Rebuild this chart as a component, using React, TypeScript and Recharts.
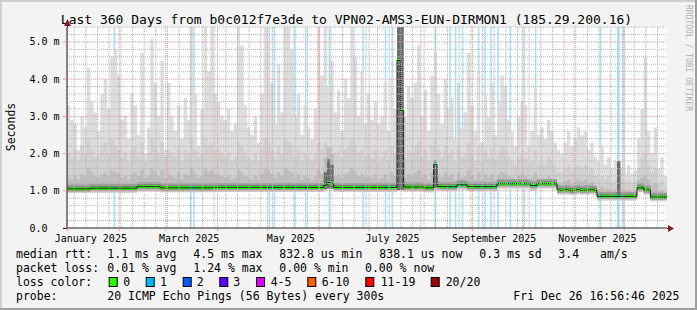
import React from 'react';
import {
  ComposedChart,
  Area,
  Line,
  XAxis,
  YAxis,
  CartesianGrid,
  ReferenceLine,
  ReferenceArea,
} from 'recharts';

// one row every 2 days, day 0 = start of the 360 day window
const STEP_DAYS = 2;

const maxRtt = [
  3.3, 2.9, 2.8, 2.1, 3.0, 2.7, 4.3, 3.4, 3.1, 2.6,
  3.6, 4.0, 3.2, 4.6, 4.8, 4.1, 2.9, 3.0, 2.4, 3.6,
  3.3, 2.5, 4.7, 2.0, 2.7, 5.1, 3.9, 3.0, 4.5, 2.1,
  3.9, 3.0, 2.6, 3.3, 2.4, 3.5, 2.9, 5.4, 3.6, 2.2,
  3.2, 5.4, 4.2, 5.4, 3.6, 3.4, 3.0, 2.9, 3.2, 2.6,
  2.8, 5.4, 4.9, 3.3, 2.7, 2.5, 3.0, 2.3, 3.6, 5.4,
  5.0, 3.9, 2.8, 4.4, 3.1, 5.4, 5.4, 4.8, 3.0, 3.6,
  2.5, 3.3, 2.7, 2.4, 3.2, 5.4, 4.1, 5.4, 3.8, 4.5,
  3.1, 3.7, 2.6, 4.0, 3.5, 5.4, 4.6, 3.0, 4.2, 2.8,
  3.6, 2.9, 3.4, 2.8, 3.0, 3.9, 2.6, 4.0, 3.2, 5.4,
  5.4, 3.0, 3.8, 3.5, 3.9, 4.9, 3.0, 3.7, 2.6, 4.1,
  4.7, 3.6, 2.8, 4.0, 3.2, 3.5, 2.4, 3.9, 2.7, 3.1,
  4.7, 3.3, 2.6, 4.2, 2.3, 3.6, 3.0, 3.9, 2.5, 3.4,
  4.1, 3.8, 2.9, 2.6, 2.2, 3.0, 3.4, 3.3, 2.2, 2.6,
  3.8, 2.5, 2.7, 2.4, 2.9, 2.6, 2.3, 2.1, 2.0, 2.3,
  2.6, 2.2, 2.4, 2.7, 2.5, 2.6, 2.1, 2.3, 1.9, 1.8,
  2.2, 1.7, 1.9, 1.6, 1.8, 1.85, 1.6, 1.5, 1.7, 1.45,
  1.55, 2.4, 3.2, 4.6, 2.6, 2.0, 2.7, 1.6, 1.9, 1.4,
];

const upperRtt = [
  2.0, 1.9, 2.1, 1.8, 2.2, 2.0, 2.4, 2.1, 1.9, 2.0,
  2.2, 2.3, 2.0, 2.4, 2.2, 2.1, 1.9, 2.0, 1.8, 2.1,
  2.2, 1.9, 2.3, 1.8, 2.0, 2.4, 2.2, 2.0, 2.3, 1.9,
  2.1, 2.0, 1.9, 2.2, 1.8, 2.1, 2.0, 2.4, 2.1, 1.9,
  2.0, 2.4, 2.2, 2.3, 2.1, 2.1, 2.0, 1.9, 2.0, 1.8,
  1.9, 2.3, 2.2, 2.0, 1.9, 1.8, 2.0, 1.8, 2.1, 2.4,
  2.3, 2.1, 1.9, 2.2, 2.0, 2.4, 2.3, 2.2, 1.9, 2.1,
  1.8, 2.0, 1.9, 1.8, 2.0, 2.3, 2.1, 2.3, 2.2, 2.2,
  2.0, 2.1, 1.9, 2.1, 2.2, 2.4, 2.2, 2.0, 2.1, 1.9,
  2.0, 1.9, 2.1, 1.8, 1.9, 2.1, 1.8, 2.2, 2.0, 5.4,
  5.4, 1.9, 2.1, 2.0, 2.2, 2.3, 1.9, 2.1, 1.8, 2.2,
  2.4, 2.1, 1.9, 2.2, 2.0, 2.1, 1.8, 2.2, 1.9, 2.0,
  2.3, 2.0, 1.8, 2.2, 1.8, 2.1, 1.9, 2.1, 1.8, 2.0,
  2.2, 2.1, 1.9, 1.8, 1.7, 1.9, 2.0, 1.9, 1.7, 1.8,
  2.1, 1.7, 1.8, 1.7, 1.9, 1.8, 1.7, 1.5, 1.5, 1.6,
  1.7, 1.5, 1.6, 1.7, 1.6, 1.7, 1.5, 1.6, 1.4, 1.3,
  1.4, 1.3, 1.4, 1.2, 1.3, 1.5, 1.3, 1.2, 1.3, 1.2,
  1.25, 1.6, 1.9, 2.0, 1.7, 1.5, 1.6, 1.2, 1.3, 1.15,
];

const midRtt = [
  1.35, 1.3, 1.4, 1.3, 1.45, 1.35, 1.6, 1.5, 1.4, 1.35,
  1.45, 1.5, 1.4, 1.55, 1.5, 1.45, 1.35, 1.4, 1.3, 1.45,
  1.5, 1.4, 1.55, 1.35, 1.4, 1.6, 1.5, 1.4, 1.55, 1.35,
  1.45, 1.4, 1.35, 1.5, 1.3, 1.45, 1.4, 1.6, 1.45, 1.35,
  1.4, 1.6, 1.5, 1.55, 1.45, 1.45, 1.4, 1.35, 1.4, 1.3,
  1.35, 1.55, 1.5, 1.4, 1.35, 1.3, 1.4, 1.3, 1.45, 1.6,
  1.55, 1.45, 1.35, 1.5, 1.4, 1.6, 1.55, 1.5, 1.35, 1.45,
  1.3, 1.4, 1.35, 1.3, 1.4, 1.55, 1.45, 1.9, 2.15, 2.0,
  1.4, 1.45, 1.35, 1.45, 1.5, 1.6, 1.5, 1.4, 1.45, 1.35,
  1.4, 1.35, 1.45, 1.3, 1.35, 1.45, 1.3, 1.5, 1.4, 5.4,
  5.4, 1.35, 1.45, 1.4, 1.5, 1.55, 1.35, 1.45, 1.3, 1.5,
  1.75, 1.45, 1.35, 1.5, 1.4, 1.45, 1.3, 1.5, 1.35, 1.4,
  1.55, 1.4, 1.3, 1.5, 1.3, 1.45, 1.35, 1.45, 1.3, 1.45,
  1.5, 1.45, 1.4, 1.35, 1.3, 1.4, 1.45, 1.4, 1.3, 1.35,
  1.5, 1.3, 1.35, 1.3, 1.4, 1.35, 1.3, 1.2, 1.2, 1.25,
  1.3, 1.2, 1.25, 1.3, 1.25, 1.3, 1.2, 1.25, 1.15, 1.05,
  1.1, 1.0, 1.05, 0.98, 1.02, 1.8, 1.0, 0.98, 1.02, 0.97,
  1.0, 1.3, 1.35, 1.4, 1.3, 1.15, 1.2, 0.98, 1.0, 0.95,
];

const medianRtt = [
  1.05, 1.05, 1.05, 1.05, 1.05, 1.05, 1.05, 1.07, 1.07, 1.07,
  1.07, 1.07, 1.07, 1.07, 1.07, 1.07, 1.07, 1.07, 1.07, 1.07,
  1.07, 1.11, 1.11, 1.11, 1.11, 1.11, 1.11, 1.11, 1.08, 1.08,
  1.08, 1.08, 1.08, 1.08, 1.08, 1.08, 1.08, 1.08, 1.08, 1.08,
  1.08, 1.08, 1.08, 1.08, 1.09, 1.09, 1.09, 1.09, 1.09, 1.09,
  1.09, 1.09, 1.09, 1.09, 1.09, 1.09, 1.09, 1.09, 1.09, 1.09,
  1.09, 1.09, 1.09, 1.09, 1.09, 1.09, 1.09, 1.09, 1.09, 1.09,
  1.09, 1.09, 1.09, 1.09, 1.09, 1.09, 1.09, 1.15, 1.22, 1.20,
  1.09, 1.09, 1.09, 1.09, 1.09, 1.09, 1.09, 1.09, 1.09, 1.09,
  1.09, 1.09, 1.09, 1.09, 1.09, 1.09, 1.09, 1.09, 1.09, 4.5,
  3.15, 1.10, 1.10, 1.10, 1.10, 1.10, 1.10, 1.08, 1.08, 1.08,
  1.7, 1.12, 1.11, 1.11, 1.11, 1.11, 1.11, 1.16, 1.16, 1.16,
  1.11, 1.11, 1.11, 1.11, 1.11, 1.11, 1.11, 1.11, 1.11, 1.19,
  1.19, 1.19, 1.19, 1.19, 1.19, 1.19, 1.19, 1.19, 1.19, 1.14,
  1.14, 1.19, 1.19, 1.19, 1.19, 1.19, 1.19, 1.02, 1.01, 1.03,
  1.02, 1.00, 1.02, 1.03, 1.01, 1.02, 1.02, 1.03, 1.01, 0.85,
  0.85, 0.85, 0.85, 0.85, 0.85, 0.85, 0.85, 0.85, 0.85, 0.85,
  0.85, 1.08, 1.08, 1.02, 1.02, 0.83, 0.83, 0.83, 0.83, 0.83,
];

const lowRtt = [
  0.94, 0.94, 0.94, 0.94, 0.94, 0.94, 0.94, 0.95, 0.95, 0.95,
  0.95, 0.95, 0.95, 0.95, 0.95, 0.95, 0.95, 0.95, 0.95, 0.95,
  0.95, 0.98, 0.98, 0.98, 0.98, 0.98, 0.98, 0.98, 0.96, 0.96,
  0.96, 0.96, 0.96, 0.96, 0.96, 0.96, 0.96, 0.96, 0.96, 0.96,
  0.96, 0.96, 0.96, 0.96, 0.97, 0.97, 0.97, 0.97, 0.97, 0.97,
  0.97, 0.97, 0.97, 0.97, 0.97, 0.97, 0.97, 0.97, 0.97, 0.97,
  0.97, 0.97, 0.97, 0.97, 0.97, 0.97, 0.97, 0.97, 0.97, 0.97,
  0.97, 0.97, 0.97, 0.97, 0.97, 0.97, 0.97, 1.00, 1.05, 1.04,
  0.97, 0.97, 0.97, 0.97, 0.97, 0.97, 0.97, 0.97, 0.97, 0.97,
  0.97, 0.97, 0.97, 0.97, 0.97, 0.97, 0.97, 0.97, 0.97, 1.00,
  1.00, 0.98, 0.98, 0.98, 0.98, 0.98, 0.98, 0.96, 0.96, 0.96,
  1.00, 1.00, 0.99, 0.99, 0.99, 0.99, 0.99, 1.03, 1.03, 1.03,
  0.99, 0.99, 0.99, 0.99, 0.99, 0.99, 0.99, 0.99, 0.99, 1.06,
  1.06, 1.06, 1.06, 1.06, 1.06, 1.06, 1.06, 1.06, 1.06, 1.01,
  1.01, 1.06, 1.06, 1.06, 1.06, 1.06, 1.06, 0.90, 0.90, 0.91,
  0.90, 0.89, 0.90, 0.91, 0.90, 0.90, 0.90, 0.91, 0.90, 0.74,
  0.74, 0.74, 0.74, 0.74, 0.74, 0.74, 0.74, 0.74, 0.74, 0.74,
  0.74, 0.96, 0.96, 0.90, 0.90, 0.72, 0.72, 0.72, 0.72, 0.72,
];

// rows where the whole ping distribution was dark (tight, high) smoke
const coreDays = [154, 156, 158, 198, 200, 220, 330];
const coreLow = [1.05, 1.06, 1.06, 1.02, 1.02, 1.08, 0.8];
const coreHigh = [1.5, 1.85, 1.7, 5.4, 5.4, 1.72, 1.8];

// packet loss (1/20) events, day position and width in days
const lossDays = [
  28.4, 74.2, 76.2, 121.4, 124.4, 136.4, 143.2, 157.4, 177.6, 191.1,
  195.2, 220.9, 229.8, 233.2, 237.3, 247.0, 250.8, 254.4, 258.6, 266.0,
  274.3, 281.2, 320.2, 330.8, 334.2,
];
const lossWidths = [
  0.9, 0.9, 0.9, 0.9, 0.9, 0.9, 0.9, 0.9, 0.9, 0.9,
  0.9, 0.9, 0.9, 0.9, 0.9, 0.9, 0.9, 0.9, 0.9, 0.9,
  0.9, 0.9, 0.9, 1.6, 0.9,
];

const monthStartDays = [0.29, 31.29, 59.29, 90.29, 120.29, 151.29, 181.29, 212.29, 243.29, 273.29, 304.29, 334.29];
const monthLabelDays = [14.29, 73.29, 134.29, 195.29, 256.29, 318.29];
const monthLabels = ['January 2025', 'March 2025', 'May 2025', 'July 2025', 'September 2025', 'November 2025'];
const yTicks = [0, 1, 2, 3, 4, 5];
const yTickLabels = ['0.0', '1.0 m', '2.0 m', '3.0 m', '4.0 m', '5.0 m'];

const Y_MAX = 5.4;
const X_MAX = 360;

const weekDays: number[] = [];
for (let d = 4.29; d < X_MAX; d += 7) weekDays.push(d);
const minorY: number[] = [];
for (let k = 1; k <= 27; k++) if (k % 5 !== 0) minorY.push(k * 0.2);

type Row = {
  day: number;
  max: number;
  upper: number;
  mid: number;
  median: number;
  low: number;
  core: [number, number] | null;
};

const table: Row[] = medianRtt.map((m, i) => {
  const day = i * STEP_DAYS;
  const ci = coreDays.indexOf(day);
  return {
    day,
    max: maxRtt[i],
    upper: upperRtt[i],
    mid: midRtt[i],
    median: m,
    low: lowRtt[i],
    core: ci >= 0 ? [coreLow[ci], coreHigh[ci]] : null,
  };
});
// closing row so the last step reaches the right edge
table.push({ ...table[table.length - 1], day: X_MAX });

const FONT = "'DejaVu Sans Mono', monospace";
const GRID = '#b4b4b4';
const MGRID = '#eb9696';
const AXIS = '#202020';
const ARROW = '#7f1f1f';

const XTick = (props: any) => {
  const { x, y, payload } = props;
  const idx = monthLabelDays.indexOf(payload.value);
  if (idx >= 0) {
    return (
      <text x={x} y={y + 13.5} textAnchor="middle" fontSize={10} fontFamily={FONT} fill="#000">
        {monthLabels[idx]}
      </text>
    );
  }
  return <line x1={x} x2={x} y1={y} y2={y + 3} stroke={MGRID} />;
};

const YTick = (props: any) => {
  const { x, y, payload } = props;
  const idx = yTicks.indexOf(payload.value);
  return (
    <g>
      <line x1={x - 4} x2={x} y1={y} y2={y} stroke={MGRID} />
      <text x={x - 37.5} y={y + 3.6} textAnchor="start" fontSize={10} fontFamily={FONT} fill="#000">
        {yTickLabels[idx]}
      </text>
    </g>
  );
};

const legendRows = [
  { y: 258, items: [
    [16, 'median rtt:'], [107.3, '1.1 ms avg'], [193.3, '4.5 ms max'], [279.3, '832.8 us min'],
    [379.3, '838.1 us now'], [479.3, '0.3 ms sd'], [558.3, '3.4'], [600, 'am/s'],
  ] },
  { y: 272, items: [
    [16, 'packet loss:'], [107.3, '0.01 % avg'], [193.3, '1.24 % max'], [279.3, '0.00 % min'], [365, '0.00 % now'],
  ] },
  { y: 286, items: [[16, 'loss color:']] },
  { y: 300, items: [
    [16, 'probe:'], [107.3, '20 ICMP Echo Pings (56 Bytes) every 300s'], [513.3, 'Fri Dec 26 16:56:46 2025'],
  ] },
];

const lossLabels = ['0', '1', '2', '3', '4-5', '6-10', '11-19', '20/20'];
const lossColors = ['#26ff00', '#00b8ff', '#0059ff', '#5e00ff', '#dd00ff', '#ff5e00', '#ff0000', '#a10000'];
const swatchX = [108.7, 145.7, 182.7, 219.3, 256, 307.3, 365.3, 430.7];
const swatchLabelX = [123.3, 160, 196.7, 233.3, 270.7, 321.7, 380.7, 445.7];

export default function App() {
  return (
    <div style={{ position: 'relative', width: 697, height: 310, background: '#f3f3f3', overflow: 'hidden' }}>
      <style>{'body{margin:0}'}</style>
      <div style={{ position: 'absolute', left: 0, top: 0 }}>
        <ComposedChart
          width={697}
          height={310}
          data={table}
          margin={{ top: 27, right: 30, bottom: 52, left: 0 }}
        >
          <CartesianGrid horizontal={false} vertical={false} fill="#ffffff" />
          <XAxis
            dataKey="day"
            type="number"
            domain={[0, X_MAX]}
            allowDataOverflow
            ticks={[...monthStartDays, ...monthLabelDays]}
            interval={0}
            tick={<XTick />}
            tickLine={false}
            tickSize={0}
            tickMargin={0}
            height={30}
            axisLine={{ stroke: AXIS }}
          />
          <YAxis
            type="number"
            domain={[0, Y_MAX]}
            allowDataOverflow
            ticks={yTicks}
            interval={0}
            tick={<YTick />}
            tickLine={false}
            tickSize={0}
            tickMargin={0}
            width={67}
            axisLine={{ stroke: AXIS }}
          />
          {lossDays.map((d, i) => (
            <ReferenceArea
              key={'loss' + i}
              x1={d - lossWidths[i] / 2}
              x2={d + lossWidths[i] / 2}
              y1={0}
              y2={Y_MAX}
              fill="#a2e2fb"
              fillOpacity={1}
              stroke="none"
            />
          ))}
          <Area dataKey={(r: Row) => [r.low, r.max]} type="stepAfter" fill="#dddddd" fillOpacity={1} stroke="none" dot={false} activeDot={false} isAnimationActive={false} />
          <Area dataKey={(r: Row) => [r.low, r.upper]} type="stepAfter" fill="#d0d0d0" fillOpacity={1} stroke="none" dot={false} activeDot={false} isAnimationActive={false} />
          <Area dataKey={(r: Row) => [r.low + 0.03, r.mid]} type="stepAfter" fill="#bdbdbd" fillOpacity={1} stroke="none" dot={false} activeDot={false} isAnimationActive={false} />
          <Area dataKey={(r: Row) => [r.median - 0.07, r.median + 0.12]} type="stepAfter" fill="#9c9c9c" fillOpacity={1} stroke="none" dot={false} activeDot={false} isAnimationActive={false} />
          <Area dataKey={(r: Row) => (r.core ? r.core : [r.median - 0.04, r.median + 0.06])} type="stepAfter" fill="#6c6c6c" fillOpacity={1} stroke="none" dot={false} activeDot={false} isAnimationActive={false} />
          <Line dataKey="median" type="stepAfter" stroke="#1a1a1a" strokeWidth={1} dot={false} activeDot={false} isAnimationActive={false} />
          <Area dataKey={(r: Row) => [r.median - 0.04, r.median + 0.04]} type="stepAfter" fill="#26ff00" fillOpacity={1} stroke="none" dot={false} activeDot={false} isAnimationActive={false} />
          {lossDays.map((d, i) => {
            const m = medianRtt[Math.min(medianRtt.length - 1, Math.floor(d / STEP_DAYS))];
            return (
              <ReferenceArea
                key={'lm' + i}
                x1={d - lossWidths[i] / 2}
                x2={d + lossWidths[i] / 2}
                y1={m - 0.04}
                y2={m + 0.04}
                fill="#00b8ff"
                fillOpacity={1}
                stroke="none"
              />
            );
          })}
          {minorY.map((v) => (
            <ReferenceLine key={'my' + v} y={v} stroke={GRID} strokeDasharray="1 1" />
          ))}
          {weekDays.map((v) => (
            <ReferenceLine key={'wx' + v} x={v} stroke={GRID} strokeDasharray="1 1" />
          ))}
          {monthStartDays.map((v) => (
            <ReferenceLine key={'mx' + v} x={v} stroke={MGRID} strokeDasharray="1 1" />
          ))}
          {yTicks.filter((v) => v > 0).map((v) => (
            <ReferenceLine key={'My' + v} y={v} stroke={MGRID} strokeDasharray="1 1" />
          ))}
        </ComposedChart>
      </div>
      <svg width={697} height={310} style={{ position: 'absolute', left: 0, top: 0, pointerEvents: 'none' }}>
        <rect x={0} y={0} width={697} height={2} fill="#cfcfcf" />
        <rect x={0} y={0} width={2} height={310} fill="#cfcfcf" />
        <rect x={0} y={308} width={697} height={2} fill="#9e9e9e" />
        <rect x={695} y={0} width={2} height={310} fill="#9e9e9e" />
        <text x={346.5} y={24} textAnchor="middle" fontSize={13} fontFamily={FONT} fill="#000">
          Last 360 Days from b0c012f7e3de to VPN02-AMS3-EUN-DIRMON1 (185.29.200.16)
        </text>
        <text
          x={15}
          y={127}
          textAnchor="middle"
          fontSize={11.5}
          fontFamily={FONT}
          fill="#000"
          transform="rotate(-90 15 127)"
        >
          Seconds
        </text>
        <text
          x={686}
          y={5}
          textAnchor="start"
          fontSize={8}
          fontFamily={FONT}
          fill="#b0b0b0"
          transform="rotate(90 686 5)"
        >
          RRDTOOL / TOBI OETIKER
        </text>
        <line x1={67.5} x2={67.5} y1={27} y2={22} stroke={AXIS} />
        <polygon points="64,26 71,26 67.5,19" fill={ARROW} />
        <line x1={63} x2={67} y1={228.5} y2={228.5} stroke={AXIS} />
        <line x1={667} x2={669} y1={228.5} y2={228.5} stroke={AXIS} />
        <polygon points="668,225 668,232 674,228.5" fill={ARROW} />
        {legendRows.map((row, ri) =>
          row.items.map(([x, t], ti) => (
            <text key={ri + '-' + ti} x={x as number} y={row.y} fontSize={11.5} fontFamily={FONT} fill="#000">
              {t as string}
            </text>
          ))
        )}
        {lossLabels.map((lab, i) => (
          <g key={'sw' + i}>
            <rect x={swatchX[i] + 0.5} y={277.5} width={8} height={9} fill={lossColors[i]} stroke="#000" strokeWidth={1} />
            <text x={swatchLabelX[i]} y={286} fontSize={11.5} fontFamily={FONT} fill="#000">
              {lab}
            </text>
          </g>
        ))}
      </svg>
    </div>
  );
}
